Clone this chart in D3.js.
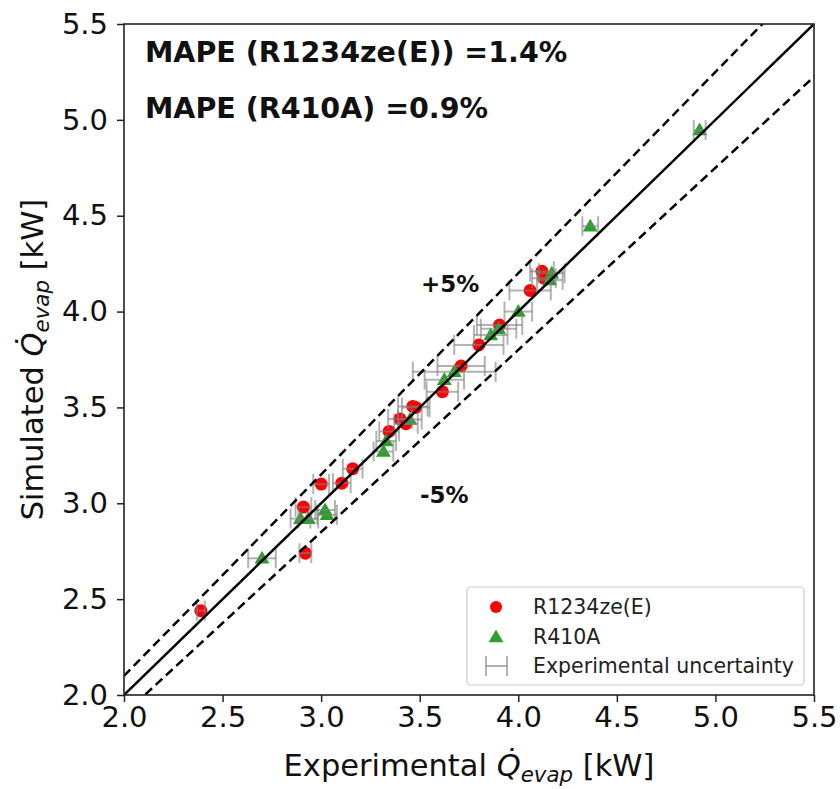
<!DOCTYPE html>
<html><head><meta charset="utf-8">
<script src="https://cdn.jsdelivr.net/npm/d3@7"></script>
<style>body{margin:0;background:#fff;} svg{display:block;font-family:"DejaVu Sans",sans-serif;}</style>
</head><body>
<svg id="c" width="840" height="789"></svg>
<script>
// R1234ze(E): experimental, simulated, experimental uncertainty
const r1234Exp = [2.39, 2.92, 2.91, 3.00, 3.105, 3.16, 3.345, 3.40, 3.43, 3.465, 3.48, 3.615, 3.71, 3.80, 3.905, 4.06, 4.12, 4.13];
const r1234Sim = [2.44, 2.74, 2.98, 3.10, 3.105, 3.18, 3.375, 3.44, 3.415, 3.505, 3.50, 3.582, 3.716, 3.826, 3.93, 4.11, 4.21, 4.174];
const r1234Err = [0.02, 0.03, 0.04, 0.04, 0.045, 0.05, 0.05, 0.06, 0.06, 0.075, 0.07, 0.08, 0.12, 0.125, 0.115, 0.105, 0.06, 0.06];
// R410A
const r410Exp = [2.70, 2.895, 2.935, 3.02, 3.03, 3.316, 3.33, 3.45, 3.625, 3.675, 3.86, 3.90, 4.00, 4.16, 4.17, 4.365, 4.92];
const r410Sim = [2.713, 2.92, 2.92, 2.965, 2.94, 3.27, 3.325, 3.437, 3.645, 3.686, 3.878, 3.91, 4.00, 4.165, 4.20, 4.445, 4.947];
const r410Err = [0.07, 0.05, 0.05, 0.05, 0.05, 0.05, 0.05, 0.06, 0.10, 0.21, 0.085, 0.09, 0.07, 0.065, 0.065, 0.04, 0.03];
const xTicks = [2.0, 2.5, 3.0, 3.5, 4.0, 4.5, 5.0, 5.5];
const yTicks = [2.0, 2.5, 3.0, 3.5, 4.0, 4.5, 5.0, 5.5];
const bandFactors = [1.05, 0.95];
const mapeLines = ["MAPE (R1234ze(E)) =1.4%", "MAPE (R410A) =0.9%"];
const legendLabels = ["R1234ze(E)", "R410A", "Experimental uncertainty"];

const svg = d3.select("#c");
const L = 124, R = 814, T = 24, B = 695;
const x = d3.scaleLinear().domain([2, 5.5]).range([L, R]);
const y = d3.scaleLinear().domain([2, 5.5]).range([B, T]);

svg.append("defs").append("clipPath").attr("id", "clip")
  .append("rect").attr("x", L).attr("y", T).attr("width", R - L).attr("height", B - T);

const red = "#ff0000", green = "#2ca02c", gray = "rgba(128,128,128,0.6)";
const plot = svg.append("g").attr("clip-path", "url(#clip)");

// markers
const tri = d3.symbol().type(d3.symbolTriangle).size(95);
r1234Exp.forEach((v, i) => {
  plot.append("circle").attr("cx", x(v)).attr("cy", y(r1234Sim[i])).attr("r", 6.5).attr("fill", red);
});
r410Exp.forEach((v, i) => {
  plot.append("path").attr("d", tri).attr("transform", `translate(${x(v)},${y(r410Sim[i]) + 1})`).attr("fill", green);
});

// error bars
function ebar(xv, yv, e) {
  const g = plot.append("g").attr("stroke", gray).attr("stroke-width", 2);
  const x0 = x(xv - e), x1 = x(xv + e), yy = y(yv);
  g.append("line").attr("x1", x0).attr("x2", x1).attr("y1", yy).attr("y2", yy);
  g.append("line").attr("x1", x0).attr("x2", x0).attr("y1", yy - 10).attr("y2", yy + 10);
  g.append("line").attr("x1", x1).attr("x2", x1).attr("y1", yy - 10).attr("y2", yy + 10);
}
r1234Exp.forEach((v, i) => ebar(v, r1234Sim[i], r1234Err[i]));
r410Exp.forEach((v, i) => ebar(v, r410Sim[i], r410Err[i]));

// reference lines
plot.append("line").attr("x1", x(2)).attr("y1", y(2)).attr("x2", x(5.5)).attr("y2", y(5.5))
  .attr("stroke", "#000").attr("stroke-width", 2.5);
bandFactors.forEach(f => {
  plot.append("line").attr("x1", x(1.9)).attr("y1", y(1.9 * f)).attr("x2", x(5.6)).attr("y2", y(5.6 * f))
    .attr("stroke", "#000").attr("stroke-width", 2.5).attr("stroke-dasharray", "9,5");
});

// axes
const fs = 29;
const xAxis = svg.append("g").attr("transform", `translate(0,${B})`)
  .call(d3.axisBottom(x).tickValues(xTicks).tickFormat(d3.format(".1f")).tickSize(7).tickPadding(4));
const yAxis = svg.append("g").attr("transform", `translate(${L},0)`)
  .call(d3.axisLeft(y).tickValues(yTicks).tickFormat(d3.format(".1f")).tickSize(7).tickPadding(9));
[xAxis, yAxis].forEach(a => {
  a.selectAll("text").attr("font-size", fs).attr("fill", "#111").attr("font-family", "DejaVu Sans");
  a.selectAll("line").attr("stroke", "#222").attr("stroke-width", 1.5);
  a.select(".domain").remove();
});
// spines
svg.append("rect").attr("x", L).attr("y", T).attr("width", R - L).attr("height", B - T)
  .attr("fill", "none").attr("stroke", "#222").attr("stroke-width", 1.6);

// axis labels
const lfs = 30.5;
function qlabel(sel, pre) {
  sel.append("tspan").text(pre);
  sel.append("tspan").attr("font-style", "italic").text("Q\u0307");
  sel.append("tspan").attr("font-style", "italic").attr("font-size", lfs * 0.7).attr("dy", 6).text("evap");
  sel.append("tspan").attr("dy", -6).text(" [kW]");
}
const xl = svg.append("text").attr("x", (L + R) / 2).attr("y", 776).attr("text-anchor", "middle")
  .attr("font-size", lfs).attr("fill", "#111");
qlabel(xl, "Experimental ");
const yl = svg.append("text").attr("transform", `translate(43,${(T + B) / 2}) rotate(-90)`)
  .attr("text-anchor", "middle").attr("font-size", lfs).attr("fill", "#111");
qlabel(yl, "Simulated ");

// annotations
mapeLines.forEach((t, i) => {
  svg.append("text").attr("x", 145).attr("y", 62 + i * 56).attr("font-size", 28.5).attr("font-weight", "bold")
    .attr("fill", "#111").text(t);
});
svg.append("text").attr("x", 421).attr("y", 292).attr("font-size", 23).attr("font-weight", "bold").attr("fill", "#111").text("+5%");
svg.append("text").attr("x", 420).attr("y", 503).attr("font-size", 23).attr("font-weight", "bold").attr("fill", "#111").text("-5%");

// legend
const lg = svg.append("g");
lg.append("rect").attr("x", 467).attr("y", 587).attr("width", 337).attr("height", 98).attr("rx", 4)
  .attr("fill", "rgba(255,255,255,0.85)").attr("stroke", "#cccccc").attr("stroke-width", 1.2);
const rows = [607, 637, 666];
lg.append("circle").attr("cx", 496).attr("cy", rows[0]).attr("r", 6).attr("fill", red);
lg.append("path").attr("d", tri).attr("transform", `translate(496,${rows[1] + 1})`).attr("fill", green);
const eg = lg.append("g").attr("stroke", gray).attr("stroke-width", 2);
eg.append("line").attr("x1", 486).attr("x2", 507).attr("y1", rows[2]).attr("y2", rows[2]);
eg.append("line").attr("x1", 486).attr("x2", 486).attr("y1", rows[2] - 10).attr("y2", rows[2] + 10);
eg.append("line").attr("x1", 507).attr("x2", 507).attr("y1", rows[2] - 10).attr("y2", rows[2] + 10);
legendLabels.forEach((t, i) => {
  lg.append("text").attr("x", 533).attr("y", rows[i] + 7).attr("font-size", 20.5).attr("fill", "#222").text(t);
});
</script>
</body></html>
